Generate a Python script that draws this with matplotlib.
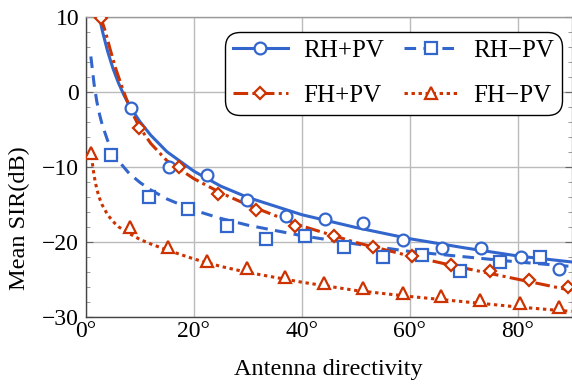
import matplotlib
matplotlib.use('Agg')
import matplotlib.pyplot as plt
from matplotlib.ticker import MultipleLocator, FuncFormatter

plt.rcParams['font.family'] = ['Liberation Serif', 'DejaVu Serif']
plt.rcParams['mathtext.fontset'] = 'stix'

blue = '#3366CC'
red = '#CC3300'

# marker points
rh_pv_x = [8.3, 15.4, 22.5, 29.8, 37.0, 44.3, 51.4, 58.8, 66.0, 73.3, 80.6, 87.6]
rh_pv_y = [-2.2, -10.1, -11.1, -14.4, -16.6, -17.0, -17.5, -19.8, -20.9, -20.9, -22.1, -23.6]

rh_mv_x = [4.6, 11.7, 18.9, 26.2, 33.3, 40.6, 47.8, 55.1, 62.3, 69.4, 76.7, 84.1]
rh_mv_y = [-8.4, -14.1, -15.7, -17.9, -19.6, -19.3, -20.7, -22.0, -21.8, -23.9, -22.7, -22.0]

fh_pv_x = [2.7, 9.8, 17.2, 24.4, 31.5, 38.8, 46.0, 53.2, 60.5, 67.6, 74.8, 82.2, 89.3]
fh_pv_y = [9.8, -4.9, -10.1, -13.6, -15.8, -17.9, -19.3, -20.7, -21.9, -23.1, -23.9, -25.1, -26.1]

fh_mv_x = [1.0, 8.1, 15.2, 22.5, 29.8, 36.9, 44.1, 51.4, 58.8, 65.9, 73.1, 80.4, 87.6]
fh_mv_y = [-8.2, -18.0, -20.7, -22.6, -23.5, -24.7, -25.5, -26.2, -26.9, -27.3, -27.8, -28.2, -28.7]

# fitted curves
rh_pv_fit_x = [2.5, 3, 4, 5, 6, 7, 8, 10, 12, 15, 20, 25, 30, 40, 50, 60, 70, 80, 90]
rh_pv_fit_y = [10, 8.2, 5.4, 3.1, 1.2, -0.4, -1.8, -4.0, -5.8, -8.0, -10.6, -12.6, -14.1, -16.4,
               -18.1, -19.6, -20.8, -21.9, -22.7]

rh_mv_fit_x = [0.9, 1.5, 2, 2.5, 3, 4, 5, 6, 8, 10, 12, 15, 20, 25, 30, 40, 50, 60, 70, 80, 90]
rh_mv_fit_y = [4.7, 1.0, -1.3, -3.0, -4.4, -6.5, -8.0, -9.2, -10.9, -12.1, -13.1, -14.3, -15.8,
               -16.9, -17.8, -19.2, -20.3, -21.3, -22.0, -22.7, -23.3]

fh_pv_fit_x = [2.7, 3.6, 4.5, 5.5, 6.5, 7.4, 8.5, 9.8, 12, 15, 20, 25, 30, 40, 50, 60, 70, 80, 90]
fh_pv_fit_y = [10, 8.0, 5.6, 3.1, 1.0, -0.8, -2.7, -4.6, -6.9, -9.2, -11.6, -13.5, -15.1, -17.9,
               -20.1, -21.9, -23.5, -25.0, -26.5]

fh_mv_fit_x = [1.0, 1.5, 2, 2.5, 3, 4, 5, 6, 8, 10, 12, 15, 20, 25, 30, 40, 50, 60, 70, 80, 90]
fh_mv_fit_y = [-8.6, -11.2, -13.0, -14.2, -15.1, -16.4, -17.3, -18.0, -18.9, -19.7, -20.3, -21.1,
               -22.3, -23.3, -24.1, -25.4, -26.5, -27.3, -28.0, -28.7, -29.3]

labels = ['RH+PV', 'RH\u2212PV', 'FH+PV', 'FH\u2212PV']

fig = plt.figure(figsize=(5.72, 3.85), dpi=100)
ax = fig.add_axes([86 / 572, 1 - 316.7 / 385, 485.5 / 572, 300 / 385])

lw = 2.2
ms = 8.5
mew = 1.6
styles = [
    (rh_pv_fit_x, rh_pv_fit_y, rh_pv_x, rh_pv_y, blue, '-', 'o', ms),
    (rh_mv_fit_x, rh_mv_fit_y, rh_mv_x, rh_mv_y, blue, (0, (3.8, 2.4)), 's', ms - 0.5),
    (fh_pv_fit_x, fh_pv_fit_y, fh_pv_x, fh_pv_y, red, (0, (4.8, 1.4, 1.0, 1.4)), 'D', ms - 2.5),
    (fh_mv_fit_x, fh_mv_fit_y, fh_mv_x, fh_mv_y, red, (0, (1.1, 1.2)), '^', ms + 0.5),
]

handles = []
for (fx, fy, mx, my, c, ls, mk, size), lab in zip(styles, labels):
    ax.plot(fx, fy, color=c, ls=ls, lw=lw, zorder=3)
    ax.plot(mx, my, ls='none', marker=mk, ms=size, mfc='white', mec=c, mew=mew, zorder=4)
    h, = ax.plot([], [], color=c, ls=ls, lw=lw, marker=mk, ms=size, mfc='white', mec=c, mew=mew)
    handles.append(h)

ax.set_xlim(0, 90)
ax.set_ylim(-30, 10)
ax.xaxis.set_major_locator(MultipleLocator(20))
ax.xaxis.set_major_formatter(FuncFormatter(lambda v, p: f'{int(v)}\u00b0'))
ax.yaxis.set_major_locator(MultipleLocator(10))
ax.yaxis.set_minor_locator(MultipleLocator(2))

ax.grid(True, which='major', color='#BBBBBB', lw=1.0, zorder=0)
ax.set_axisbelow(True)

for s in ['left', 'bottom']:
    ax.spines[s].set_color('#444444')
    ax.spines[s].set_linewidth(1.0)
for s in ['top', 'right']:
    ax.spines[s].set_color('#999999')
    ax.spines[s].set_linewidth(1.0)

ax.tick_params(axis='both', which='major', labelsize=17, direction='in', color='#666666')
ax.tick_params(axis='x', which='major', length=0, pad=3)
ax.tick_params(axis='y', which='major', length=5, left=True, right=True, pad=5)
ax.tick_params(axis='y', which='minor', length=3, direction='in', left=True, right=True, color='#888888')

ax.set_xlabel('Antenna directivity', fontsize=17.5, labelpad=12)
ax.set_ylabel('Mean SIR(dB)', fontsize=17.5)
ax.yaxis.set_label_coords(-0.115, 0.33)

order = [0, 2, 1, 3]
leg = ax.legend([handles[i] for i in order], [labels[i] for i in order], ncol=2,
                loc='upper right', bbox_to_anchor=(562 / 572, 1 - 32 / 385),
                bbox_transform=fig.transFigure, borderaxespad=0, fontsize=18, numpoints=1,
                handlelength=2.2, handletextpad=0.6, columnspacing=0.8,
                labelspacing=0.9, borderpad=0.3, fancybox=True, framealpha=1,
                edgecolor='black')
leg.get_frame().set_linewidth(1.0)
leg.get_frame().set_boxstyle('round,pad=0.0,rounding_size=0.6')

fig.savefig('out.png', dpi=100)
